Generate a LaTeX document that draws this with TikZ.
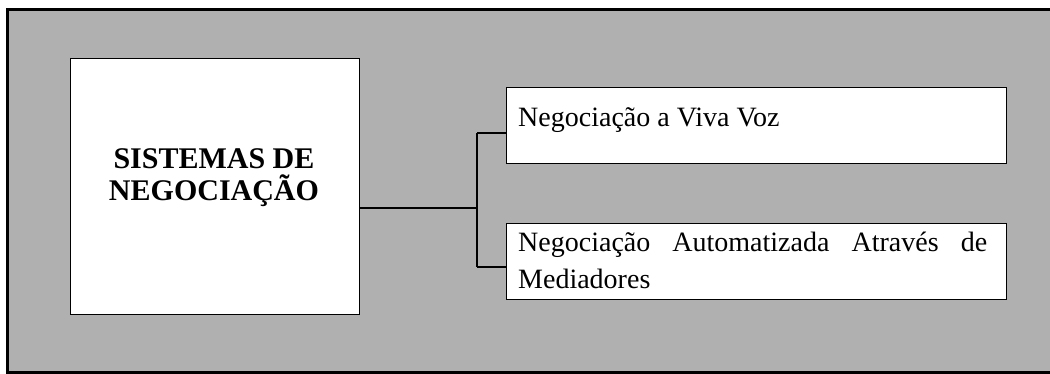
\documentclass[tikz,border=0pt]{standalone}
\usepackage{fontspec}
\setmainfont{Liberation Serif}
\definecolor{bggray}{gray}{0.69}
\tikzset{
  px/.style={x=1pt,y=-1pt},
  boxw/.style={draw=black,line width=1.4pt,fill=white,inner sep=0pt,anchor=north west},
  conn/.style={draw=black,line width=1.3pt},
  txt/.style={inner sep=0pt,font=\fontsize{28}{36}\selectfont}
}
\begin{document}
\begin{tikzpicture}[px]
\useasboundingbox (0,0) rectangle (1050,374);
\fill[white] (0,0) rectangle (1050,374);
\draw[fill=bggray,line width=3pt] (7,10) rectangle (1060,372);
% boxes
\node[boxw,minimum width=289pt,minimum height=256pt] (main) at (70,58) {};
\node[boxw,minimum width=500pt,minimum height=76pt] (b1) at (506,87) {};
\node[boxw,minimum width=500pt,minimum height=76pt] (b2) at (506,223) {};
% texts
\node[txt,font=\fontsize{30}{32}\selectfont\bfseries,align=center] (tmain) at (214,178) {SISTEMAS DE\\NEGOCIAÇÃO};
\node[txt,anchor=base west] (t1) at (518,127) {Negociação a Viva Voz};
\node[txt,anchor=base west] (t2a) at (518,252) {\makebox[469pt][s]{Negociação Automatizada Através de}};
\node[txt,anchor=base west] (t2b) at (518,288) {Mediadores};
% connectors
\coordinate (j) at (477,208);
\coordinate (j1) at (477,133);
\coordinate (j2) at (477,267);
\draw[conn] (main.east |- j) -- (j);
\draw[conn] (j1) -- (j2);
\draw[conn] (j1) -- (b1.west |- j1);
\draw[conn] (j2) -- (b2.west |- j2);
\end{tikzpicture}
\end{document}
